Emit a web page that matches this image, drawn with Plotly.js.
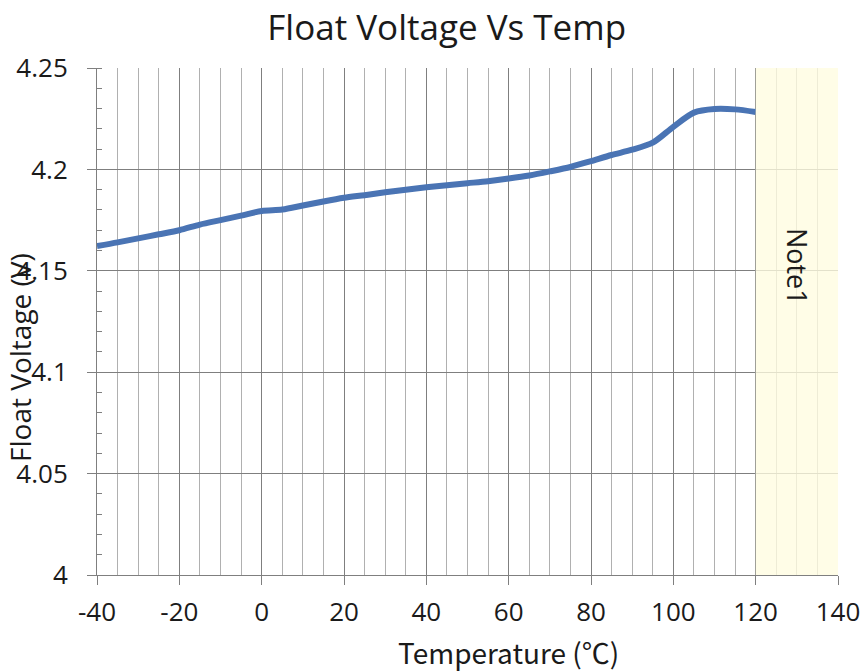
<!DOCTYPE html>
<html>
<head>
<meta charset="utf-8">
<script src="https://cdn.plot.ly/plotly-3.0.1.min.js"></script>
<style>html,body{margin:0;padding:0;background:#fff;}#chart{width:864px;height:672px;}</style>
</head>
<body>
<div id="chart"></div>
<script>
const temperature = [-40,-35,-30,-25,-20,-15,-10,-5,0,5,10,15,20,25,30,35,40,45,50,55,60,65,70,75,80,85,90,95,100,105,110,115,120];
const floatVoltage = [4.1622,4.1640,4.1660,4.1680,4.1700,4.1728,4.1750,4.1772,4.1795,4.1802,4.1822,4.1842,4.1860,4.1873,4.1887,4.1900,4.1912,4.1922,4.1932,4.1942,4.1955,4.1970,4.1990,4.2012,4.2041,4.2071,4.2097,4.2132,4.2210,4.2280,4.2298,4.2296,4.2283];
const xTickVals = [-40,-20,0,20,40,60,80,100,120,140];
const xTickText = ['-40','-20','0','20','40','60','80','100','120','140'];
const yTickVals = [4,4.05,4.1,4.15,4.2,4.25];
const yTickText = ['4','4.05','4.1','4.15','4.2','4.25'];
const noteRange = [120,140];
const noteLabel = 'Note1';

const FONT = 'Open Sans, Noto Sans, sans-serif';
const trace = {
  x: temperature, y: floatVoltage, type: 'scatter', mode: 'lines',
  line: {color: '#4a74b4', width: 6, shape: 'spline', smoothing: 0.8},
  hoverinfo: 'skip'
};
const layout = {
  width: 864, height: 672,
  margin: {l: 97, r: 26, t: 68, b: 97},
  paper_bgcolor: '#fff', plot_bgcolor: '#fff',
  showlegend: false,
  title: {text: 'Float Voltage Vs Temp', font: {family: FONT, size: 35, color: '#1a1a1a'}, x: 0.517, xanchor: 'center', y: 0.958, yanchor: 'middle'},
  xaxis: {
    range: [-40, 140], tickvals: xTickVals, ticktext: xTickText,
    showgrid: true, gridcolor: '#7f7f7f', gridwidth: 1,
    zeroline: false, showline: true, linecolor: '#7f7f7f', linewidth: 1,
    ticks: 'outside', ticklen: 9, tickcolor: '#7f7f7f', ticklabelstandoff: 5,
    tickfont: {family: FONT, size: 26, color: '#1a1a1a'},
    minor: {dtick: 5, showgrid: true, gridcolor: '#b0b0b0', gridwidth: 1, ticks: ''},
    fixedrange: true
  },
  yaxis: {
    range: [4, 4.25], tickvals: yTickVals, ticktext: yTickText,
    showgrid: true, gridcolor: '#7f7f7f', gridwidth: 1,
    zeroline: false, showline: true, linecolor: '#7f7f7f', linewidth: 1,
    ticks: 'outside', ticklen: 9, tickcolor: '#7f7f7f', ticklabelstandoff: 14,
    tickfont: {family: FONT, size: 26, color: '#1a1a1a'},
    minor: {dtick: 0.01, ticks: 'inside', ticklen: 5, tickcolor: '#7f7f7f', showgrid: false},
    fixedrange: true
  },
  shapes: [{
    type: 'rect', xref: 'x', yref: 'y', x0: noteRange[0], x1: noteRange[1], y0: 4, y1: 4.25,
    fillcolor: 'rgba(255,252,224,0.78)', line: {width: 0}, layer: 'above'
  }],
  annotations: [
    {text: noteLabel, xref: 'x', yref: 'y', x: 130, y: 4.152, showarrow: false, textangle: 90,
     font: {family: FONT, size: 27, color: '#1a1a1a'}, xanchor: 'center', yanchor: 'middle'},
    {text: 'Temperature (\u2103)', xref: 'paper', yref: 'paper', x: 0.556, y: -0.152, showarrow: false,
     font: {family: 'Noto Sans CJK SC, Open Sans, sans-serif', size: 28, color: '#1a1a1a'}, xanchor: 'center', yanchor: 'middle'},
    {text: 'Float Voltage (V)', xref: 'paper', yref: 'paper', x: -0.104, y: 0.43, showarrow: false, textangle: -90,
     font: {family: FONT, size: 28, color: '#1a1a1a'}, xanchor: 'center', yanchor: 'middle'}
  ]
};
Plotly.newPlot('chart', [trace], layout, {displayModeBar: false, staticPlot: true});
</script>
</body>
</html>
